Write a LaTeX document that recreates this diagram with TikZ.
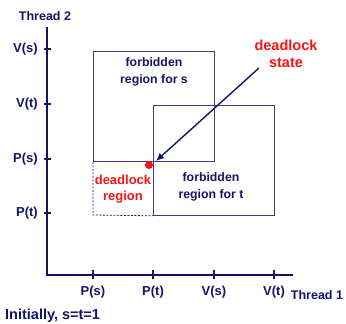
\documentclass[tikz,border=0pt]{standalone}
\usepackage{fontspec}
\setmainfont{Liberation Sans}
\usetikzlibrary{arrows.meta}
\definecolor{navy}{RGB}{20,20,100}
\definecolor{boxc}{RGB}{60,60,130}
\definecolor{myred}{RGB}{250,20,20}
\begin{document}
\begin{tikzpicture}[x=1pt,y=-1pt,
  lbl/.style={font=\bfseries\fontsize{13}{15}\selectfont, text=navy, inner sep=0pt},
  thr/.style={font=\bfseries\fontsize{12.5}{15}\selectfont, text=navy, inner sep=0pt},
  rlbl/.style={font=\bfseries\fontsize{14.5}{17}\selectfont, text=myred, inner sep=0pt, align=center},
  blbl/.style={font=\bfseries\fontsize{12.3}{16.5}\selectfont, text=navy, inner sep=0pt, align=center},
  axis/.style={draw=navy, line width=1.6pt},
  tick/.style={draw=navy, line width=1.1pt},
  region/.style={draw=boxc, line width=0.8pt}]
\useasboundingbox (0,0) rectangle (346,324);
% axes
\coordinate (O) at (47,275);
\coordinate (ytop) at (47,27);
\coordinate (xend) at (293,275);
\draw[axis] (ytop) -- (O) -- (xend);
% y ticks
\foreach \y/\t in {49/V(s),104/V(t),159/P(s),213/P(t)}{
  \draw[tick] (44,\y) -- (51,\y);
  \node[lbl, anchor=east] at (38,\y) {\t};
}
% x ticks
\foreach \x/\t in {93/P(s),153/P(t),214/V(s),274/V(t)}{
  \draw[tick] (\x,270) -- (\x,279);
  \node[lbl] at (\x,292) {\t};
}
\node[thr] (t2) at (45,16) {Thread 2};
\node[thr] (t1) at (317,295) {Thread 1};
\node[font=\bfseries\fontsize{14.5}{17}\selectfont, text=navy, inner sep=0pt, anchor=west] (init) at (5,316) {Initially, s=t=1};
% regions
\node[region, minimum width=121pt, minimum height=110pt, inner sep=0pt, anchor=north west] (fs) at (93,51) {};
\node[region, minimum width=121pt, minimum height=110pt, inner sep=0pt, anchor=north west] (ft) at (153,105) {};
\draw[line width=0.8pt, navy, dash pattern=on 2pt off 1.5pt] (fs.south west) -- (93,215) -- (ft.south west);
\node[blbl] at (154,72) {forbidden\\region for s};
\node[blbl] at (211,187) {forbidden\\region for t};
\node[rlbl, font=\bfseries\fontsize{13}{16}\selectfont] at (123,189) {deadlock\\region};
\node[rlbl] (ds) at (286,54) {deadlock\\state};
\fill[myred] (149,165) circle (4pt);
\coordinate (as) at (259,68);
\coordinate (ae) at (156,161);
\draw[navy, line width=1.4pt, -{Latex[length=8pt,width=7pt]}] (as) -- (ae);
\end{tikzpicture}
\end{document}
